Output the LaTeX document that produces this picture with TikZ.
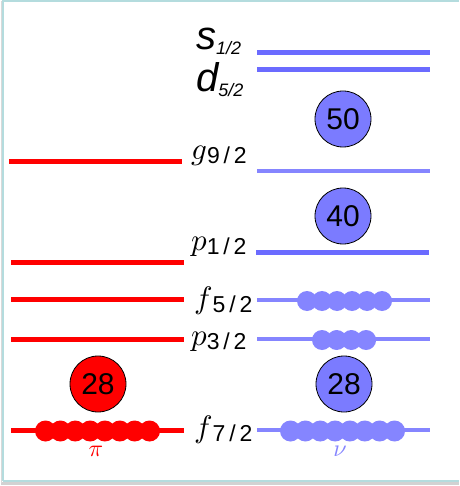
\documentclass[tikz,border=0pt]{standalone}
\usepackage{fontspec}
\newfontfamily\helv{Liberation Sans}
\definecolor{pred}{HTML}{FF0000}
\definecolor{nblue}{HTML}{6B6BFF}
\definecolor{lblue}{HTML}{8585FF}
\definecolor{cfill}{HTML}{7B7BFF}
\definecolor{frameteal}{HTML}{B4DCDE}
\newcommand{\orbl}[2]{\scalebox{3.1}{$#1$}\raisebox{-4pt}{\helv\fontsize{23}{23}\selectfont #2}}
\newcommand{\orbs}[2]{{\helv\itshape\fontsize{40}{40}\selectfont #1}\raisebox{-5pt}{\helv\itshape\fontsize{18}{18}\selectfont #2}}
\begin{document}
\begin{tikzpicture}[x=1pt,y=-1pt,
  plev/.style={pred,line width=5pt},
  nlev/.style={nblue,line width=5pt},
  llev/.style={lblue,line width=4pt},
  magic/.style={circle,draw=black,line width=0.8pt,minimum size=56pt,inner sep=0pt,font=\helv\fontsize{30}{30}\selectfont},
  lab/.style={anchor=base west,inner sep=0pt},
  pdot/.style={pred},
  ndot/.style={lblue}]
\useasboundingbox (0,0) rectangle (459,486);
% frame
\fill[white] (3,1) rectangle (459,481);
\draw[gray!35,line width=3pt] (1,483) -- (459,483);
\draw[gray!30,line width=1pt] (1.5,1) -- (1.5,483);
\draw[frameteal,line width=1.5pt] (3,481) -- (3,1) -- (459,1);
\draw[frameteal,line width=1.5pt] (3,481) -- (459,481);
% proton levels
\draw[plev] (9,162) -- (182,162);
\draw[plev] (11,262) -- (184,262);
\draw[plev] (11,299) -- (184,299);
\draw[plev] (11,339) -- (184,339);
\draw[plev] (11,430) -- (184,430);
\foreach \i in {0,...,7} \fill[pdot] (45.5+\i*14.86,431) circle (10.5);
% neutron levels
\draw[nlev] (257,53) -- (430,53);
\draw[nlev] (257,70) -- (430,70);
\draw[llev] (257,171) -- (430,171);
\draw[nlev] (256,252) -- (429,252);
\draw[llev] (257,300) -- (430,300);
\draw[llev] (257,339) -- (430,339);
\draw[llev] (257,430) -- (430,430);
\foreach \i in {0,...,5} \fill[ndot] (307+\i*15,301) circle (10);
\foreach \i in {0,...,3} \fill[ndot] (322+\i*14.7,340) circle (10);
\foreach \i in {0,...,7} \fill[ndot] (290.5+\i*14.86,431) circle (10.5);
% magic numbers
\node[magic,fill=cfill] (m50) at (343,119) {50};
\node[magic,fill=cfill] (m40) at (343,216) {40};
\node[magic,fill=cfill] (n28) at (344,384) {28};
\node[magic,fill=pred] (p28) at (98,384) {28};
% labels
\node[lab] (s12) at (196,50) {\orbs{s}{1/2}};
\node[lab] (d52) at (196,92) {\orbs{d}{5/2}};
\node[lab] (g92) at (191,160) {\orbl{g}{9\,/\,2}};
\node[lab] (p12) at (191,250) {\orbl{p}{1\,/\,2}};
\node[lab] (f52) at (194,308) {\orbl{f}{5\,/\,2}};
\node[lab] (p32) at (191,345) {\orbl{p}{3\,/\,2}};
\node[lab] (f72) at (194,437) {\orbl{f}{7\,/\,2}};
\node[pred] (pi) at (96,451) {\scalebox{2.4}{$\pi$}};
\node[lblue] (nu) at (340,451) {\scalebox{2.4}{$\nu$}};
\end{tikzpicture}
\end{document}
